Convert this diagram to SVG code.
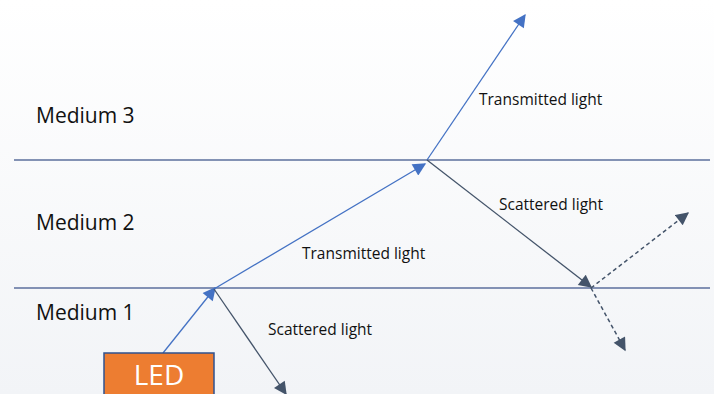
<svg xmlns="http://www.w3.org/2000/svg" width="714" height="394" viewBox="0 0 714 394">
<style>
.bd{stroke:#5b6f9c;stroke-width:1.3}
.tr{stroke:#4472c4;stroke-width:1.3;fill:none}
.sc{stroke:#44546a;stroke-width:1.3;fill:none}
.ds{stroke:#44546a;stroke-width:1.5;fill:none;stroke-dasharray:4 3}
.lbl{font-family:"Open Sans","Liberation Sans",sans-serif;fill:#111}
.med{font-size:21px}
.sm{font-size:15.5px}
</style>
<defs>
<linearGradient id="bg" x1="0" y1="0" x2="0" y2="1">
<stop offset="0" stop-color="#ffffff"/>
<stop offset="1" stop-color="#f2f4f7"/>
</linearGradient>
<marker id="ab" viewBox="0 0 10 10" refX="9" refY="5" markerWidth="14" markerHeight="13" markerUnits="userSpaceOnUse" orient="auto">
<path d="M0,0 L10,5 L0,10 z" fill="#4472c4"/>
</marker>
<marker id="ag" viewBox="0 0 10 10" refX="9" refY="5" markerWidth="14" markerHeight="13" markerUnits="userSpaceOnUse" orient="auto">
<path d="M0,0 L10,5 L0,10 z" fill="#44546a"/>
</marker>
</defs>
<rect width="714" height="394" fill="url(#bg)"/>
<g id="boundaries">
<line class="bd" x1="14" y1="160" x2="710" y2="160"/>
<line class="bd" x1="14" y1="288" x2="710" y2="288"/>
</g>
<g id="media-labels">
<text class="lbl med" x="36" y="123">Medium 3</text>
<text class="lbl med" x="36" y="230">Medium 2</text>
<text class="lbl med" x="36" y="320">Medium 1</text>
</g>
<g id="connectors">
<line class="tr" x1="163" y1="353" x2="215" y2="288" marker-end="url(#ab)"/>
<line class="tr" x1="214" y1="289" x2="425" y2="164" marker-end="url(#ab)"/>
<line class="tr" x1="427" y1="160" x2="525" y2="15" marker-end="url(#ab)"/>
<line class="sc" x1="214" y1="289" x2="286" y2="394" marker-end="url(#ag)"/>
<line class="sc" x1="427" y1="160" x2="591" y2="287" marker-end="url(#ag)"/>
<line class="ds" x1="591" y1="288" x2="688" y2="213" marker-end="url(#ag)"/>
<line class="ds" x1="591" y1="288" x2="625" y2="350" marker-end="url(#ag)"/>
</g>
<g id="labels">
<text class="lbl sm" x="479" y="105">Transmitted light</text>
<text class="lbl sm" x="499" y="210">Scattered light</text>
<text class="lbl sm" x="302" y="259">Transmitted light</text>
<text class="lbl sm" x="268" y="335">Scattered light</text>
</g>
<g id="led">
<rect x="104" y="353" width="110" height="48" fill="#ed7d31" stroke="#2f528f" stroke-width="1.5"/>
<text x="159" y="385" text-anchor="middle" font-family="'Open Sans','Liberation Sans',sans-serif" font-size="28" fill="#ffffff">LED</text>
</g>
</svg>
